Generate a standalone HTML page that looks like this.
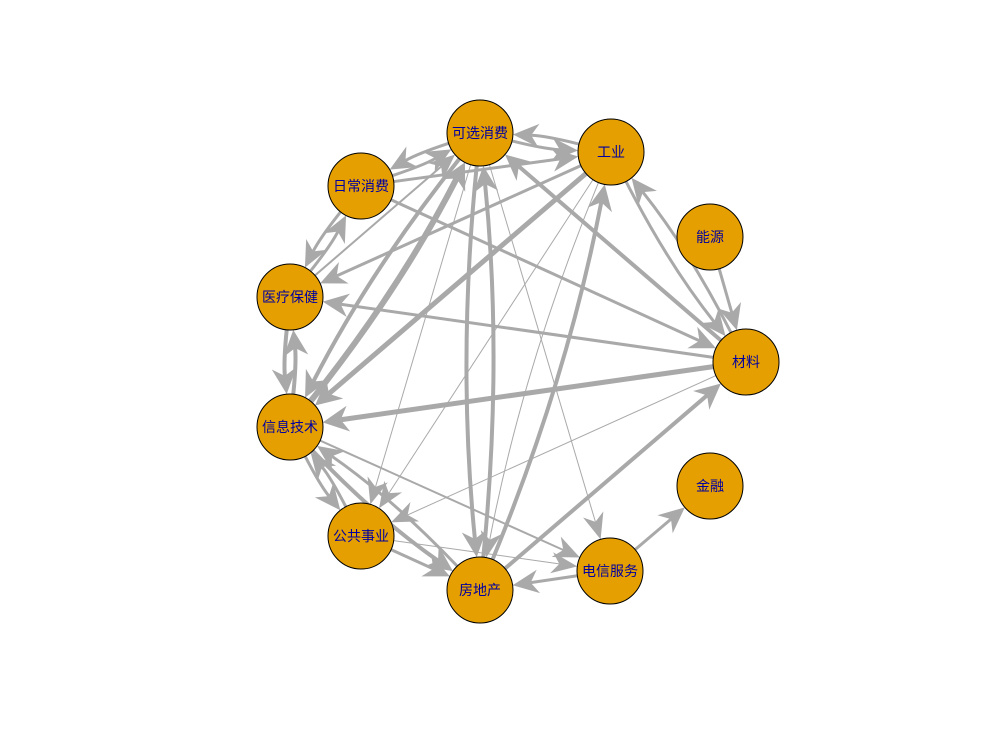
<!DOCTYPE html>
<html><head><meta charset="utf-8"><style>
html,body{margin:0;padding:0;background:#fff;}
svg{display:block;}
text{font-family:"Liberation Sans","Noto Sans CJK SC",sans-serif;font-size:14px;fill:#0000a0;}
</style></head><body>
<svg id="s" width="1000" height="743" viewBox="0 0 1000 743" xmlns="http://www.w3.org/2000/svg">
<g id="e"></g><g id="n"></g>
</svg>
<script>
var N={A:[480,133,"可选消费"],B:[611,152,"工业"],C:[710,237,"能源"],D:[746,362,"材料"],E:[710,486,"金融"],F:[610,571,"电信服务"],G:[480,590,"房地产"],H:[361,536,"公共事业"],I:[290,427,"信息技术"],J:[290,297,"医疗保健"],K:[361,186,"日常消费"]};
var E=[["I","A",6],["A","I",4],["B","I",5],["D","I",5],["I","J",4],["J","I",4],
["A","G",4],["G","A",4],["G","B",4],["G","D",4],["D","A",4],["K","D",3],["D","J",3],
["B","D",3],["D","B",3],["C","D",3],["D","H",1],["F","E",3],["I","F",2],["A","F",1],
["H","F",1],["B","H",1],["A","H",1],["B","G",1],["F","G",3],["I","G",4],["G","I",3],
["H","G",3],["H","I",3],["I","H",3],["K","A",3],["A","K",3],["A","B",3],["B","A",3],
["K","B",3],["B","J",3],["J","K",3],["K","J",3],["J","A",2]];
var R=33,ns="http://www.w3.org/2000/svg",ge=document.getElementById("e"),gn=document.getElementById("n");
var has={};E.forEach(function(e){has[e[0]+e[1]]=1;});
function el(t,a,p){var x=document.createElementNS(ns,t);for(var k in a)x.setAttribute(k,a[k]);p.appendChild(x);return x;}
E.forEach(function(e){
 var a=N[e[0]],b=N[e[1]],w=e[2];
 var dx=b[0]-a[0],dy=b[1]-a[1],L=Math.hypot(dx,dy),ux=dx/L,uy=dy/L,px=-uy,py=ux;
 var cur=has[e[1]+e[0]]?0.05*L:0;
 var cx=(a[0]+b[0])/2+px*cur,cy=(a[1]+b[1])/2+py*cur;
 var sx=cx-a[0],sy=cy-a[1],sl=Math.hypot(sx,sy);
 var x0=a[0]+sx/sl*R,y0=a[1]+sy/sl*R;
 var tx=cx-b[0],ty=cy-b[1],tl=Math.hypot(tx,ty);tx/=tl;ty/=tl;
 var x1=b[0]+tx*R,y1=b[1]+ty*R;
 var al=26,aw=10+w*0.6;
 var bx=x1+tx*al*0.7,by=y1+ty*al*0.7;
 el("path",{d:"M"+x0+" "+y0+" Q"+cx+" "+cy+" "+bx+" "+by,fill:"none",stroke:"#a9a9a9","stroke-width":w},ge);
 var qx=-ty,qy=tx,ex=x1+tx*al,ey=y1+ty*al;
 el("path",{d:"M"+x1+" "+y1+" L"+(ex+qx*aw)+" "+(ey+qy*aw)+" L"+bx+" "+by+" L"+(ex-qx*aw)+" "+(ey-qy*aw)+"Z",fill:"#a9a9a9"},ge);
});
for(var k in N){var n=N[k];
 el("circle",{cx:n[0],cy:n[1],r:R,fill:"#e69f00",stroke:"#000","stroke-width":1},gn);
 var t=el("text",{x:n[0],y:n[1]+5,"text-anchor":"middle"},gn);t.textContent=n[2];}
</script>
</body></html>
